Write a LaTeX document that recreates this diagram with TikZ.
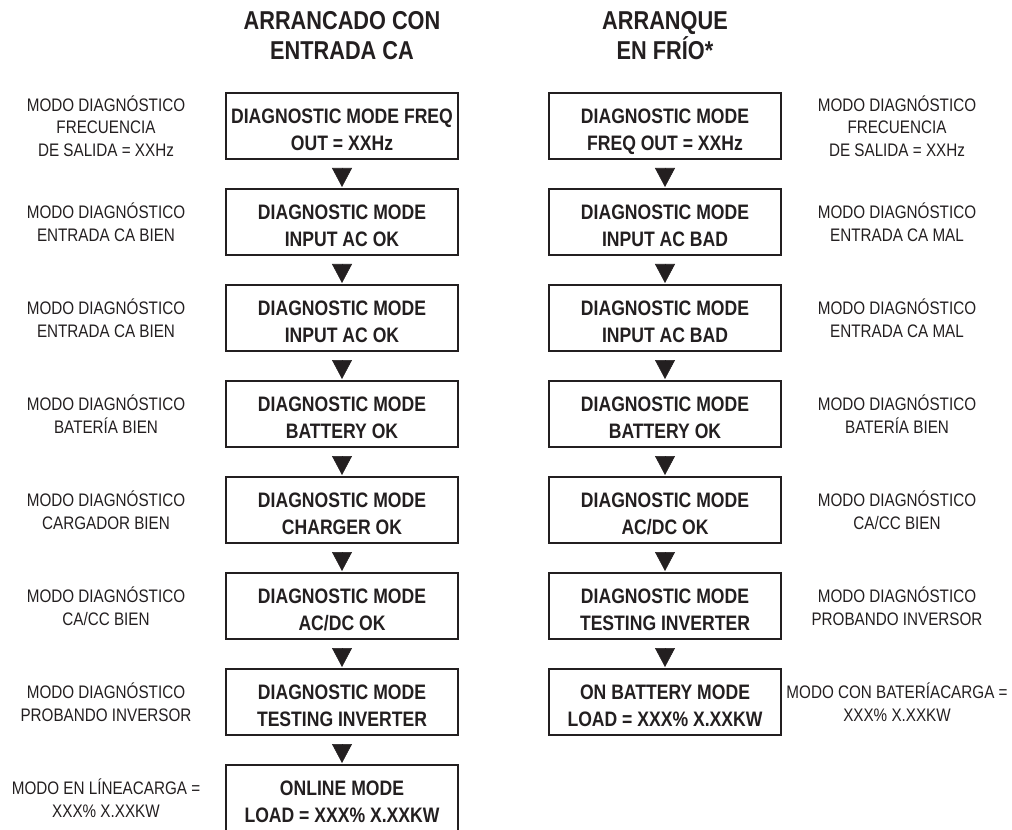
\documentclass[tikz,border=0pt]{standalone}
\usepackage{fontspec}
\setmainfont{Liberation Sans}[FakeStretch=0.84]
\usepackage{tikz}
\usetikzlibrary{arrows.meta, positioning}
\definecolor{ink}{HTML}{231F20}

\begin{document}
\begin{tikzpicture}[
    x=0.75pt, y=-0.75pt,
    box/.style={rectangle, draw=ink, line width=1.5pt, text=ink, inner sep=0pt,
                minimum width=174pt, minimum height=49.5pt, align=center,
                text height=37pt, text depth=0pt,
                font=\bfseries\fontsize{15.7}{20.25}\selectfont},
    lbl/.style={text=ink, align=center, inner sep=0pt, font=\fontsize{13.6}{16.9}\selectfont},
    ttl/.style={text=ink, align=center, inner sep=0pt, font=\bfseries\fontsize{19.4}{22.5}\selectfont},
    tri/.style={-{Triangle[width=15pt, length=14.25pt]}, draw=ink, fill=ink, line width=0.4pt,
                shorten <=6pt, shorten >=0.75pt}
]
    \useasboundingbox (0,0) rectangle (1012,830);
    \coordinate (lx) at (106,0);
    \coordinate (rx) at (897,0);

    \node[ttl] (ta) at (342,36) {ARRANCADO CON\\ENTRADA CA};
    \node[ttl] (tc) at (665,36) {ARRANQUE\\EN FRÍO*};

    \node[box] (a1) at (342,126) {DIAGNOSTIC MODE FREQ\\OUT = XXHz};
    \node[box, below=21pt of a1] (a2) {DIAGNOSTIC MODE\\INPUT AC OK};
    \node[box, below=21pt of a2] (a3) {DIAGNOSTIC MODE\\INPUT AC OK};
    \node[box, below=21pt of a3] (a4) {DIAGNOSTIC MODE\\BATTERY OK};
    \node[box, below=21pt of a4] (a5) {DIAGNOSTIC MODE\\CHARGER OK};
    \node[box, below=21pt of a5] (a6) {DIAGNOSTIC MODE\\AC/DC OK};
    \node[box, below=21pt of a6] (a7) {DIAGNOSTIC MODE\\TESTING INVERTER};
    \node[box, below=21pt of a7] (a8) {ONLINE MODE\\LOAD = XXX\% X.XXKW};

    \node[box] (c1) at (665,126) {DIAGNOSTIC MODE\\FREQ OUT = XXHz};
    \node[box, below=21pt of c1] (c2) {DIAGNOSTIC MODE\\INPUT AC BAD};
    \node[box, below=21pt of c2] (c3) {DIAGNOSTIC MODE\\INPUT AC BAD};
    \node[box, below=21pt of c3] (c4) {DIAGNOSTIC MODE\\BATTERY OK};
    \node[box, below=21pt of c4] (c5) {DIAGNOSTIC MODE\\AC/DC OK};
    \node[box, below=21pt of c5] (c6) {DIAGNOSTIC MODE\\TESTING INVERTER};
    \node[box, below=21pt of c6] (c7) {ON BATTERY MODE\\LOAD = XXX\% X.XXKW};

    \node[lbl] (la1) at (a1 -| lx) {MODO DIAGNÓSTICO\\FRECUENCIA\\DE SALIDA = XXHz};
    \node[lbl] (la2) at (a2 -| lx) {MODO DIAGNÓSTICO\\ENTRADA CA BIEN};
    \node[lbl] (la3) at (a3 -| lx) {MODO DIAGNÓSTICO\\ENTRADA CA BIEN};
    \node[lbl] (la4) at (a4 -| lx) {MODO DIAGNÓSTICO\\BATERÍA BIEN};
    \node[lbl] (la5) at (a5 -| lx) {MODO DIAGNÓSTICO\\CARGADOR BIEN};
    \node[lbl] (la6) at (a6 -| lx) {MODO DIAGNÓSTICO\\CA/CC BIEN};
    \node[lbl] (la7) at (a7 -| lx) {MODO DIAGNÓSTICO\\PROBANDO INVERSOR};
    \node[lbl] (la8) at (a8 -| lx) {MODO EN LÍNEACARGA =\\XXX\% X.XXKW};

    \node[lbl] (lc1) at (c1 -| rx) {MODO DIAGNÓSTICO\\FRECUENCIA\\DE SALIDA = XXHz};
    \node[lbl] (lc2) at (c2 -| rx) {MODO DIAGNÓSTICO\\ENTRADA CA MAL};
    \node[lbl] (lc3) at (c3 -| rx) {MODO DIAGNÓSTICO\\ENTRADA CA MAL};
    \node[lbl] (lc4) at (c4 -| rx) {MODO DIAGNÓSTICO\\BATERÍA BIEN};
    \node[lbl] (lc5) at (c5 -| rx) {MODO DIAGNÓSTICO\\CA/CC BIEN};
    \node[lbl] (lc6) at (c6 -| rx) {MODO DIAGNÓSTICO\\PROBANDO INVERSOR};
    \node[lbl] (lc7) at (c7 -| rx) {MODO CON BATERÍACARGA =\\XXX\% X.XXKW};

    \draw[tri] (a1) -- (a2);
    \draw[tri] (a2) -- (a3);
    \draw[tri] (a3) -- (a4);
    \draw[tri] (a4) -- (a5);
    \draw[tri] (a5) -- (a6);
    \draw[tri] (a6) -- (a7);
    \draw[tri] (a7) -- (a8);
    \draw[tri] (c1) -- (c2);
    \draw[tri] (c2) -- (c3);
    \draw[tri] (c3) -- (c4);
    \draw[tri] (c4) -- (c5);
    \draw[tri] (c5) -- (c6);
    \draw[tri] (c6) -- (c7);
\end{tikzpicture}
\end{document}
